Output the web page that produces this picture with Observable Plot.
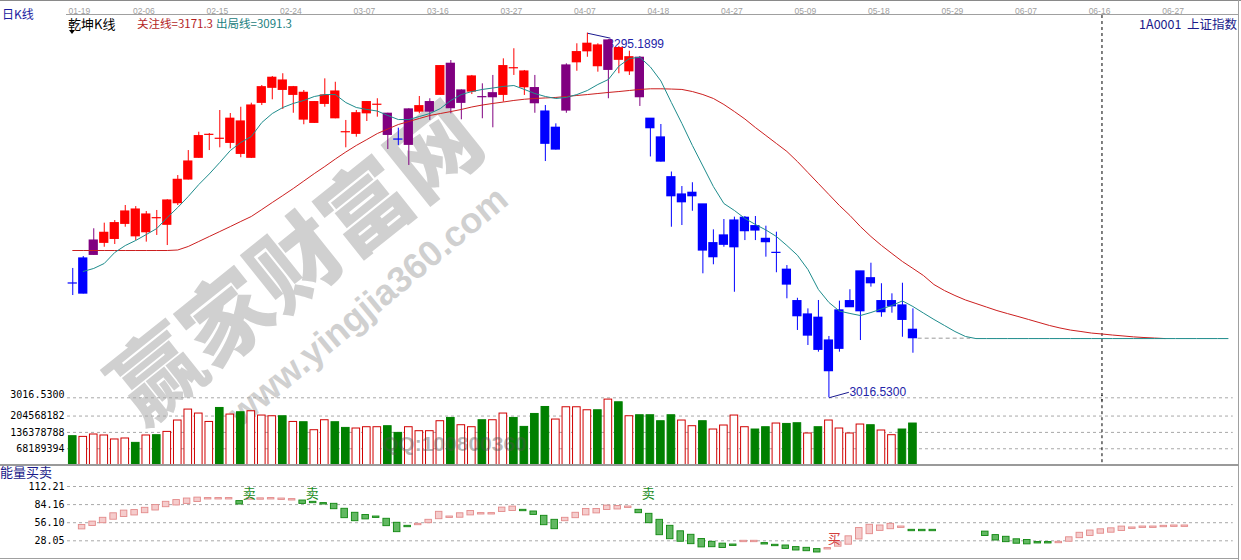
<!DOCTYPE html>
<html><head><meta charset="utf-8">
<script src="https://cdn.jsdelivr.net/npm/d3@7"></script>
<script src="https://cdn.jsdelivr.net/npm/@observablehq/plot@0.6"></script>
<style>
html,body{margin:0;padding:0;background:#fff;}
#wrap{position:relative;width:1241px;height:560px;overflow:hidden;background:#fff;}
.abs{position:absolute;white-space:nowrap;line-height:1;}
.cjk{font-family:"Noto Sans CJK SC","Noto Sans",sans-serif;}
.ln{position:absolute;background:#a0a0a0;z-index:2;}
#wrap svg{position:absolute;left:0;z-index:1;}
</style></head><body>
<div id="wrap">
  <div class="abs cjk" style="z-index:0;left:292px;top:258px;transform:translate(-50%,-50%) rotate(-38.7deg);font-size:89px;font-weight:900;color:#d0d0d0;">赢家财富网</div>
  <div class="abs" style="z-index:0;left:368px;top:306px;transform:translate(-50%,-50%) rotate(-39.8deg);font-size:36px;font-weight:700;color:#d0d0d0;font-family:'Liberation Sans',Arial,sans-serif;">www.yingjia360.com</div>

  <div class="ln" style="left:0;top:0;width:1241px;height:1px;background:#8a8a8a"></div>
  <div class="ln" style="left:66px;top:14px;width:1173px;height:1px;"></div>
  <div class="ln" style="left:1238px;top:0;width:1px;height:560px;"></div>
  <div class="ln" style="left:0;top:464px;width:1239px;height:2px;background:#9a9a9a"></div>
  <div class="ln" style="left:0;top:558px;width:1239px;height:1px;"></div>

  <div class="abs cjk" style="z-index:2;left:2px;top:8px;font-size:12px;color:#1c1ca0;">日K线</div>
  <div class="abs cjk" style="z-index:2;left:68px;top:17px;font-size:13px;color:#000;">乾坤K线</div>
  <div class="abs" style="z-index:2;left:69px;top:30px;width:0;height:0;border-left:3.5px solid transparent;border-right:3.5px solid transparent;border-top:4px solid #000;"></div>
  <div class="abs cjk" style="z-index:2;left:137px;top:18px;font-size:11.5px;color:#b41e1e;">关注线=3171.3</div>
  <div class="abs cjk" style="z-index:2;left:216px;top:18px;font-size:11.5px;color:#1a8080;">出局线=3091.3</div>
  <div class="abs cjk" style="z-index:2;right:4px;top:18px;font-size:12.5px;color:#1a1a8a;">1A0001&nbsp; 上证指数</div>
  <div class="abs cjk" style="z-index:2;left:0;top:465px;font-size:13px;color:#1a1a8a;">能量买卖</div>
  <div class="abs" style="z-index:3;left:382px;top:433px;font-size:21px;font-weight:700;color:rgba(80,80,80,0.42);font-family:'Liberation Sans',Arial,sans-serif;">QQ:100800360</div>
</div>
<script>
// ---------- data ----------
const dateLabels = ["01-19","02-06","02-15","02-24","03-07","03-16","03-27","04-07","04-18","04-27","05-09","05-18","05-29","06-07","06-16","06-27"];

const kType = ["b","b","p","r","r","r","r","r","r","r","r","r","r","r","r","r","r","r","r","r","r","r","r","r","r","r","r","r","r","r",
 "p","b","p","r","p","r","p","p","r","p","p","r","r","r","p","b","b","p","r","r","r","p","r","r","p",
 "b","b","b","b","b","b","b","b","b","b","b","b","b","b","b","b","b","b","b","b","b","b","b","b","b","b"];
const open  = [3103.9,3123.0,3136.7,3135.0,3138.0,3149.5,3140.0,3143.1,3153.8,3148.8,3165.3,3183.4,3200.0,3217.5,3214.5,3211.4,3203.0,3200.0,3242.0,3253.5,
 3251.9,3248.1,3229.2,3226.7,3241.2,3230.2,3219.5,3218.3,3234.0,3240.5,3233.6,3213.9,3236.9,3235.3,3242.5,3248.1,3271.8,3251.4,3250.6,3246.3,
 3249.3,3248.1,3268.4,3253.9,3253.2,3235.3,3222.9,3270.5,3273.0,3281.4,3270.0,3289.6,3274.9,3266.1,3276.4,3229.8,3215.5,3185.1,3171.9,3173.2,
 3164.3,3134.7,3140.6,3152.0,3154.1,3147.7,3138.0,3127.3,3114.4,3090.4,3080.2,3077.7,3060.3,3083.3,3090.4,3113.1,3107.9,3090.4,3090.4,3087.1,3068.5];
const close = [3103.9,3096.2,3125.8,3142.6,3150.0,3158.9,3160.4,3156.6,3153.8,3167.3,3183.1,3197.1,3216.5,3217.5,3214.5,3229.8,3227.7,3239.9,3253.9,3261.1,
 3259.0,3253.9,3249.6,3242.5,3247.6,3250.6,3219.5,3234.0,3242.5,3240.5,3217.5,3213.9,3209.9,3239.4,3235.3,3270.0,3237.9,3242.0,3262.1,3246.3,
 3246.3,3270.0,3268.4,3265.9,3241.7,3210.7,3206.3,3236.1,3280.7,3287.1,3285.8,3267.2,3283.7,3276.8,3246.3,3222.6,3197.1,3170.6,3166.0,3170.6,
 3129.1,3124.0,3133.5,3131.6,3143.9,3144.4,3135.5,3127.3,3103.1,3078.9,3064.1,3053.2,3036.9,3054.0,3085.8,3082.7,3104.1,3082.0,3086.5,3076.1,3062.1];
const high  = [3115.4,3124.5,3145.7,3150.0,3152.0,3163.5,3162.7,3158.9,3159.7,3167.9,3186.4,3205.5,3219.5,3218.5,3236.1,3233.8,3238.6,3241.7,3255.2,3262.1,
 3264.2,3254.5,3251.4,3243.0,3260.3,3257.7,3228.5,3236.1,3243.0,3245.1,3234.0,3222.6,3237.4,3246.8,3245.1,3270.5,3274.3,3251.9,3262.9,3256.5,
 3262.9,3275.6,3283.3,3266.7,3262.9,3239.9,3225.9,3271.8,3287.1,3295.1899,3287.1,3290.2,3285.0,3281.4,3277.4,3229.8,3225.4,3189.1,3178.0,3180.9,
 3164.3,3144.9,3152.8,3154.6,3155.1,3155.1,3147.7,3143.1,3117.6,3092.6,3084.5,3090.9,3063.4,3090.4,3099.1,3113.1,3119.4,3103.7,3096.0,3104.1,3084.5];
const low   = [3094.7,3095.9,3125.3,3131.6,3133.7,3146.9,3136.7,3135.5,3140.6,3132.9,3163.5,3183.0,3199.6,3205.5,3207.6,3206.8,3200.0,3199.4,3239.9,3244.3,
 3236.9,3234.0,3225.2,3226.2,3238.6,3229.8,3207.6,3215.7,3227.7,3231.0,3206.3,3209.4,3194.1,3233.6,3228.5,3247.6,3233.6,3229.0,3248.3,3229.8,
 3222.9,3242.5,3262.9,3247.6,3234.0,3197.1,3205.9,3234.0,3266.1,3276.8,3265.4,3245.1,3264.2,3262.9,3239.2,3200.6,3196.7,3146.9,3148.2,3159.1,
 3111.3,3118.2,3131.6,3097.2,3136.7,3136.7,3124.0,3112.1,3092.2,3068.0,3056.5,3051.4,3016.53,3051.4,3085.8,3060.3,3101.1,3078.1,3081.2,3062.8,3050.6];

// 关注线 (red), from bar 0
const focusLine = [3129.1,3129.1,3129.1,3129.1,3129.1,3129.1,3129.1,3129.1,3129.1,3129.1,
 3129.5,3132.2,3136.0,3139.8,3143.6,3147.4,3151.3,3155.1,3160.4,3165.8,3171.1,3176.5,3182.2,3187.9,3193.3,3199.0,3204.4,3209.4,3213.9,3218.5,
 3222.0,3225.4,3227.7,3230.0,3232.3,3233.8,3235.3,3236.9,3238.8,3240.3,3241.5,3242.6,3243.8,3244.7,3245.3,3245.7,3246.1,3246.8,3247.6,3248.3,
 3249.1,3249.9,3250.6,3251.4,3252.2,3252.7,3252.7,3252.5,3252.2,3250.6,3248.3,3245.3,3240.7,3235.3,3229.6,3223.1,3217.0,3210.9,3204.8,3197.1,
 3188.7,3180.3,3171.9,3163.5,3155.9,3147.4,3139.8,3133.0,3126.8,3120.7,3115.4,3110.0,3103.1,3098.5,3094.7,3091.3,3088.6,3085.9,3083.2,3080.9,
 3078.7,3076.4,3074.1,3071.8,3069.9,3068.3,3067.2,3066.0,3065.3,3064.5,3063.8,3063.1,3062.6,3062.2,3061.8];
// 出局线 (teal), from bar 1
const exitStart = 1;
const exitLine = [3113.1,3115.4,3119.2,3127.6,3132.9,3136.8,3141.3,3145.9,3154.3,3162.0,3170.4,3179.5,3187.6,3196.4,3205.5,3211.7,3216.2,3226.9,3233.8,3238.4,
 3241.5,3243.8,3246.8,3248.3,3248.3,3242.2,3238.4,3236.9,3235.7,3232.3,3229.2,3229.2,3231.5,3233.8,3237.6,3243.8,3248.3,3250.6,3252.2,3253.3,
 3254.5,3255.2,3252.2,3249.1,3246.8,3245.3,3246.1,3248.3,3251.4,3256.0,3259.8,3270.0,3275.8,3276.8,3269.4,3258.7,3242.2,3226.2,3209.4,3193.7,
 3178.0,3165.0,3159.7,3153.6,3149.0,3144.8,3139.8,3132.9,3125.5,3114.6,3099.3,3089.4,3082.8,3081.0,3079.4,3081.7,3084.4,3087.1,3090.6,3086.3,
 3081.3,3076.4,3071.8,3067.2,3063.4,3061.8,3061.8,3061.8,3061.8,3061.8,3061.8,3061.8,3061.8,3061.8,3061.8,3061.8,3061.8,3061.8,3061.8,3061.8,
 3061.8,3061.8,3061.8,3061.8,3061.8,3061.8,3061.8,3061.8,3061.8,3061.8];

// volume (millions of shares), up = red hollow bar
const volume = [120.6,117.7,127.6,123.5,106.9,111.0,92.7,123.5,124.7,138.5,185.9,231.6,215.0,180.0,238.3,210.8,220.4,224.5,206.7,203.7,
 203.7,180.0,178.8,145.5,187.1,178.8,155.1,152.6,158.0,158.0,162.2,134.3,158.0,141.4,141.4,183.0,196.7,166.3,158.0,187.1,
 187.1,215.0,196.7,159.3,213.3,242.4,190.0,241.2,241.2,228.7,228.7,273.2,262.0,203.7,207.9,207.9,183.0,207.9,185.9,162.2,
 183.0,148.4,165.1,206.7,158.0,148.4,158.0,173.4,171.7,174.6,131.8,158.0,185.9,152.6,131.8,169.2,166.3,144.3,124.7,148.4,173.4];
const volUp = [0,1,1,1,1,1,0,1,0,1, 1,1,1,1,0,1,0,1,1,1, 0,1,0,1,1,0,0,1,1,1, 0,0,1,1,1,1,0,1,1,0,
 1,1,0,0,0,0,1,1,1,1, 0,1,0,1,0,0,0,0,1,1, 0,1,1,1,1,0,0,1,0,0, 1,0,1,1,1,1,0,1,1,0, 0];
const volTicks = [68189394,136378788,204568182];

// 能量买卖
const eHi = [null,51.5,56.7,62.6,69.6,73.8,74.6,78.1,82.3,87.4,90.1,92.5,93.9,93.2,93.2,93.2,88.5,92.8,92.8,93.2,92.5,91.6,
 89.4,87.4,85.4,84.3,76.6,70.4,67.0,64.6,61.1,54.9,50.2,53.3,59.5,71.9,64.6,69.6,73.2,69.9,69.9,78.4,80.0,
 75.0,72.4,65.7,59.5,62.6,70.4,76.3,76.3,81.5,80.8,80.1,75.0,68.8,59.5,50.2,41.7,36.3,29.8,25.4,22.6,21.2,
 27.0,27.0,23.4,20.8,19.7,17.2,16.1,14.1,15.7,24.6,33.9,46.7,51.8,50.7,53.3,49.1,44.0,44.0,44.0,null,null,null,null,
 41.2,35.8,33.2,29.3,28.2,25.0,25.0,25.4,32.4,39.4,42.9,44.8,46.3,49.0,47.6,49.1,49.1,50.2,50.7,50.7];
const eLo = [null,46.8,52.1,56.4,61.8,66.0,68.4,71.9,76.1,81.2,83.9,86.3,89.3,93.2,93.2,93.2,85.4,92.8,92.8,93.2,92.5,91.6,
 86.3,87.4,85.4,78.1,64.2,59.5,62.3,64.6,51.8,42.5,50.2,53.3,56.4,62.6,64.6,64.9,68.5,69.9,69.9,73.8,75.3,
 75.0,69.3,53.3,47.1,59.5,64.2,68.5,71.6,76.9,77.7,80.1,71.9,56.4,37.8,31.6,27.7,23.9,18.9,19.2,18.0,21.2,
 27.0,27.0,23.4,20.8,16.6,14.1,13.0,11.0,15.7,20.0,23.1,31.2,39.4,44.5,47.1,49.1,44.0,44.0,44.0,null,null,null,null,
 36.6,29.6,27.0,24.6,23.6,25.0,25.0,25.4,27.7,33.2,36.7,40.1,41.7,44.3,47.6,49.1,49.1,50.2,50.7,50.7];
const eType = "-pppppppppppppppgpppppgggggggggggppppppppppggggpppppppggggggggggppggggggppppppppggg----gggggggppppppppppppp".split("");
const eTicks = [28.05,56.10,84.16,112.21];
const sellBars = [16,22,54];
const buyBars = [73];

// ---------- chart ----------
const W = 1241, ML = 67, MR = 8.25;
const xOpt = {domain: [-0.5, 110.5], axis: null};
const kColor = {r: "#ff0000", b: "#0000ff", p: "#800080"};
const candles = kType.map((t, i) => ({i, t, o: open[i], c: close[i], h: high[i], l: low[i]}));
const focusPts = focusLine.map((v, i) => ({i, v}));
const exitPts = exitLine.map((v, k) => ({i: k + exitStart, v}));
const hiIdx = d3.maxIndex(high), loIdx = d3.minIndex(low);
const last = close.length - 1;
const monoFont = "DejaVu Sans Mono";

const pricePlot = Plot.plot({
  width: W, height: 400, marginLeft: ML, marginRight: MR, marginTop: 0, marginBottom: 0,
  x: xOpt,
  y: {domain: [3016.53, 3295.1899], range: [397.3, 32.7], axis: null},
  color: {type: "identity"},
  style: {background: "transparent", overflow: "visible"},
  marks: [
    Plot.ruleY([low[loIdx]], {stroke: "#a8a8a8", strokeDasharray: "3,3"}),
    Plot.text([low[loIdx]], {frameAnchor: "left", y: d => d, dy: -3, dx: -3, textAnchor: "end",
      text: d => d.toFixed(4), fontFamily: monoFont, fontSize: 10, fill: "#000"}),
    Plot.text(dateLabels, {x: (d, k) => k === 0 ? -0.4 : 5.73 + 7 * (k - 1), frameAnchor: "top", dy: 7.5,
      textAnchor: "start", text: d => d, fill: "#a0a0a0", fontSize: 8.5, fontFamily: "Liberation Sans"}),
    Plot.ruleX([98], {y1: 3308.7, y2: 3014, stroke: "#000", strokeDasharray: "3,3"}),
    Plot.link([hiIdx], {x1: d => d, y1: d => high[d], x2: d => d + 2.2, y2: d => high[d] - 3.8, stroke: "#1a1a90"}),
    Plot.text([hiIdx], {x: d => d + 1.9, y: d => high[d] - 8.7, text: d => high[d].toFixed(4), textAnchor: "start",
      fill: "#2323a8", fontSize: 12, fontFamily: "Liberation Sans"}),
    Plot.link([loIdx], {x1: d => d, y1: d => low[d], x2: d => d + 1.9, y2: d => low[d] + 4.2, stroke: "#1a1a90"}),
    Plot.text([loIdx], {x: d => d + 1.95, y: d => low[d] + 4.2, text: d => low[d].toFixed(4), textAnchor: "start",
      fill: "#2323a8", fontSize: 12, fontFamily: "Liberation Sans"}),
    Plot.ruleX(candles, {x: "i", y1: "l", y2: "h", stroke: d => kColor[d.t], strokeWidth: 1}),
    Plot.rect(candles, {x1: d => d.i - 0.44, x2: d => d.i + 0.44, y1: "o", y2: "c", fill: d => kColor[d.t],
      insetTop: -0.6, insetBottom: -0.6}),
    Plot.ruleY([close[last]], {x1: last + 0.5, x2: last + 5.5, stroke: "#999", strokeDasharray: "4,3"}),
    Plot.line(focusPts, {x: "i", y: "v", stroke: "#cc1f1f", strokeWidth: 1}),
    Plot.line(exitPts, {x: "i", y: "v", stroke: "#1e8c8c", strokeWidth: 1})
  ]
});
pricePlot.style.top = "0px";

const vols = volume.map((v, i) => ({i, v, up: volUp[i] === 1}));
const volPlot = Plot.plot({
  width: W, height: 71, marginLeft: ML, marginRight: MR, marginTop: 0, marginBottom: 0,
  x: xOpt,
  y: {domain: [0, 272.76], range: [69.6, 4.2], axis: null},
  color: {type: "identity"},
  style: {background: "transparent", overflow: "visible"},
  marks: [
    Plot.ruleY(volTicks, {y: d => d / 1e6, stroke: "#a8a8a8", strokeDasharray: "3,3"}),
    Plot.text(volTicks, {frameAnchor: "left", y: d => d / 1e6, dx: -3, textAnchor: "end", text: d => String(d),
      fontFamily: monoFont, fontSize: 10, fill: "#000"}),
    Plot.rect(vols, {x1: d => d.i - 0.41, x2: d => d.i + 0.41, y1: 0, y2: "v",
      fill: d => d.up ? "#ffffff" : "#008000", stroke: d => d.up ? "#d00000" : "#008000",
      insetLeft: 0.5, insetRight: 0.5}),
    Plot.ruleX([98], {y1: 10, y2: 290, stroke: "#000", strokeDasharray: "3,3"})
  ]
});
volPlot.style.top = "395px";

const ePts = eHi.map((h, i) => ({i, h, l: eLo[i], t: eType[i]})).filter(d => d.h != null);
const ePlot = Plot.plot({
  width: W, height: 96, marginLeft: ML, marginRight: MR, marginTop: 0, marginBottom: 0,
  x: xOpt,
  y: {domain: [0, 112.21], range: [94.4, 22], axis: null},
  color: {type: "identity"},
  style: {background: "transparent", overflow: "visible"},
  marks: [
    Plot.ruleY(eTicks, {stroke: "#a8a8a8", strokeDasharray: "3,3"}),
    Plot.text(eTicks, {frameAnchor: "left", y: d => d, dx: -3, textAnchor: "end", text: d => d.toFixed(2),
      fontFamily: monoFont, fontSize: 10, fill: "#000"}),
    Plot.rect(ePts, {x1: d => d.i - 0.42, x2: d => d.i + 0.2, y1: "l", y2: "h",
      fill: d => d.t === "g" ? "#62b862" : "#f5cccc", stroke: d => d.t === "g" ? "#0f870f" : "#e38a8a",
      strokeWidth: 0.9, insetTop: -0.7, insetBottom: -0.7}),
    Plot.text(sellBars, {x: d => d + 0.8, y: 101, text: () => "卖", fill: "#1a8c1a", fontSize: 13,
      fontFamily: "Noto Sans CJK SC"}),
    Plot.text(buyBars, {x: d => d - 0.5, y: 31, text: () => "买", fill: "#d23c3c", fontSize: 13,
      fontFamily: "Noto Sans CJK SC"})
  ]
});
ePlot.style.top = "464px";

const wrap = document.getElementById("wrap");
wrap.appendChild(pricePlot);
wrap.appendChild(volPlot);
wrap.appendChild(ePlot);
</script>
</body></html>
